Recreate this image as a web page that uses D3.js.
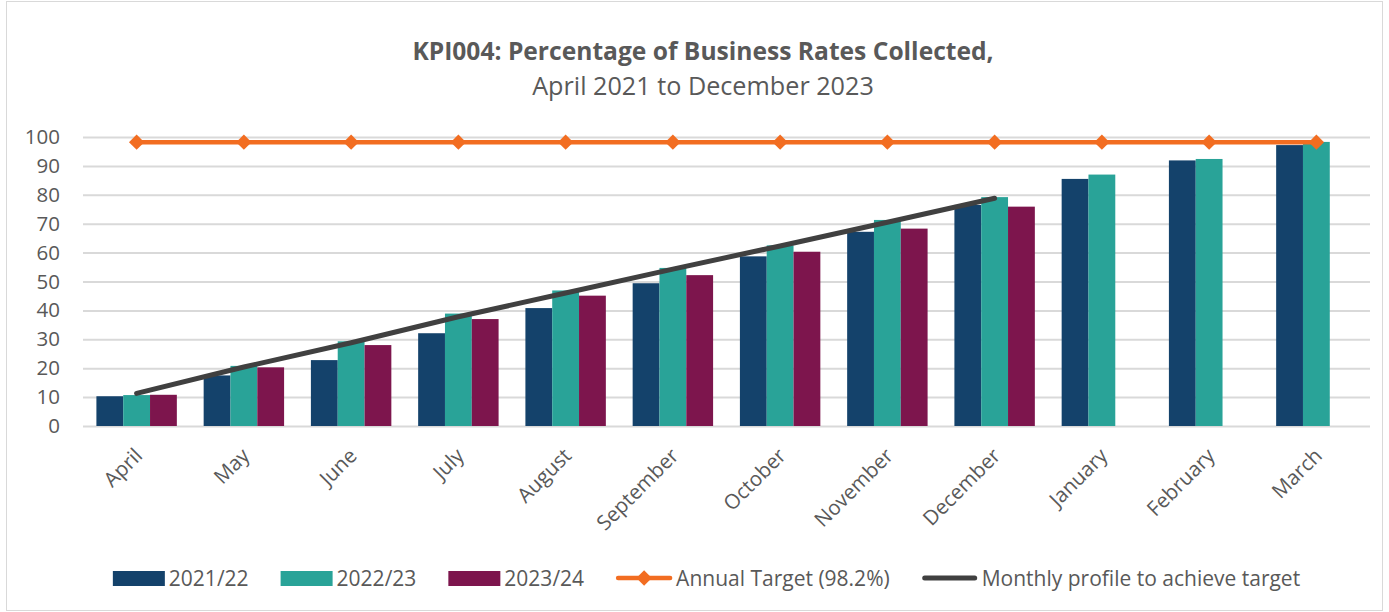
<!DOCTYPE html>
<html>
<head>
<meta charset="utf-8">
<script src="https://cdn.jsdelivr.net/npm/d3@7"></script>
<style>
  html, body { margin: 0; padding: 0; background: #fff; }
  svg { display: block; font-family: "Open Sans", Lato, sans-serif; }
</style>
</head>
<body>
<svg id="chart" width="1389" height="612"></svg>
<script>
// Month categories (financial year order)
const months = ["April", "May", "June", "July", "August", "September",
  "October", "November", "December", "January", "February", "March"];

// Cumulative % of business rates collected, by financial year
const fy2122 = [10.3, 17.5, 22.8, 32.1, 40.8, 49.4, 58.7, 67.2, 76.5, 85.5, 91.9, 97.2];
const fy2223 = [10.7, 20.8, 29.3, 38.9, 46.9, 54.7, 62.5, 71.3, 79.2, 87.0, 92.4, 98.3];
const fy2324 = [10.8, 20.3, 28.0, 37.0, 45.1, 52.2, 60.3, 68.3, 75.9, null, null, null];

// Annual target and the monthly profile needed to reach it
const annualTarget = [98.2, 98.2, 98.2, 98.2, 98.2, 98.2, 98.2, 98.2, 98.2, 98.2, 98.2, 98.2];
const monthlyProfile = [11.3, 20.4, 28.8, 37.8, 46.0, 54.3, 62.3, 70.5, 78.8];

const yTicks = [0, 10, 20, 30, 40, 50, 60, 70, 80, 90, 100];

const barSeries = [
  { name: "2021/22", values: fy2122, color: "#14426b" },
  { name: "2022/23", values: fy2223, color: "#29a398" },
  { name: "2023/24", values: fy2324, color: "#7d154d" }
];
const targetColor = "#f26d21";
const profileColor = "#404040";
const textColor = "#595959";
const fontFamily = "'Open Sans', Lato, sans-serif";

const svg = d3.select("#chart");
const W = 1389, H = 612;
const plot = { left: 83, right: 1370, top: 137, bottom: 426 };

// Chart frame
svg.append("rect")
  .attr("x", 6.5).attr("y", 1.5).attr("width", W - 13).attr("height", H - 3)
  .attr("fill", "#fff").attr("stroke", "#d9d9d9").attr("stroke-width", 1);

// Title
svg.append("text")
  .attr("x", 703).attr("y", 59.5).attr("text-anchor", "middle")
  .attr("font-size", 24.6).attr("font-weight", "bold").attr("fill", textColor)
  .text("KPI004: Percentage of Business Rates Collected,");
svg.append("text")
  .attr("x", 703).attr("y", 95).attr("text-anchor", "middle")
  .attr("font-size", 25.2).attr("fill", textColor)
  .text("April 2021 to December 2023");

// Scales
const x = d3.scaleBand().domain(months).range([plot.left, plot.right]).paddingInner(0).paddingOuter(0);
const xSub = d3.scaleBand().domain(barSeries.map(s => s.name)).range([0, x.bandwidth()])
  .paddingInner(0).paddingOuter(0.5);
const y = d3.scaleLinear().domain([0, 100]).range([plot.bottom, plot.top]);

// Horizontal gridlines + y-axis labels
const yAxis = d3.axisLeft(y).tickValues(yTicks).tickSize(-(plot.right - plot.left)).tickPadding(23);
const gy = svg.append("g").attr("transform", `translate(${plot.left},0)`).call(yAxis);
gy.select(".domain").remove();
gy.selectAll(".tick line").attr("stroke", "#d9d9d9").attr("stroke-width", 2);
gy.selectAll(".tick text").attr("fill", textColor).attr("font-size", 20.5)
  .attr("font-family", fontFamily);

// Bars
const groups = svg.append("g").selectAll("g.series")
  .data(barSeries).join("g").attr("class", "series").attr("fill", d => d.color);
groups.selectAll("rect")
  .data(s => s.values.map((v, i) => ({ s: s.name, m: months[i], v })).filter(d => d.v !== null))
  .join("rect")
  .attr("x", d => x(d.m) + xSub(d.s))
  .attr("y", d => y(d.v))
  .attr("width", xSub.bandwidth())
  .attr("height", d => y(0) - y(d.v));

// x-axis month labels (rotated)
const xAxis = d3.axisBottom(x).tickSize(0).tickPadding(0);
const gx = svg.append("g").attr("transform", `translate(0,${plot.bottom})`).call(xAxis);
gx.select(".domain").remove();
gx.selectAll(".tick text")
  .attr("fill", textColor).attr("font-size", 20.5)
  .attr("font-family", fontFamily)
  .attr("text-anchor", "end")
  .attr("dy", 0)
  .attr("transform", "translate(7,31) rotate(-45)");

const cx = m => x(m) + x.bandwidth() / 2;

// Monthly profile line
svg.append("path")
  .datum(monthlyProfile)
  .attr("fill", "none").attr("stroke", profileColor).attr("stroke-width", 5)
  .attr("stroke-linecap", "round").attr("stroke-linejoin", "round")
  .attr("d", d3.line().x((d, i) => cx(months[i])).y(d => y(d)));

// Annual target line with diamond markers
svg.append("path")
  .datum(annualTarget)
  .attr("fill", "none").attr("stroke", targetColor).attr("stroke-width", 4.5)
  .attr("d", d3.line().x((d, i) => cx(months[i])).y(d => y(d)));
svg.append("g").selectAll("path")
  .data(annualTarget).join("path")
  .attr("transform", (d, i) => `translate(${cx(months[i])},${y(d)})`)
  .attr("d", d3.symbol().type(d3.symbolDiamond2).size(150))
  .attr("fill", targetColor);

// Legend
const legendItems = [
  { type: "rect", color: barSeries[0].color, label: barSeries[0].name },
  { type: "rect", color: barSeries[1].color, label: barSeries[1].name },
  { type: "rect", color: barSeries[2].color, label: barSeries[2].name },
  { type: "target", color: targetColor, label: "Annual Target (98.2%)" },
  { type: "line", color: profileColor, label: "Monthly profile to achieve target" }
];
const legend = svg.append("g");
const ly = 578;
let lx = 0;
legendItems.forEach((it) => {
  const g = legend.append("g").attr("transform", `translate(${lx},0)`);
  let keyW = 52;
  if (it.type === "rect") {
    g.append("rect").attr("x", 0).attr("y", ly - 7).attr("width", 52).attr("height", 15).attr("fill", it.color);
  } else if (it.type === "target") {
    keyW = 56;
    g.append("line").attr("x1", 2).attr("x2", 54).attr("y1", ly).attr("y2", ly)
      .attr("stroke", it.color).attr("stroke-width", 4.5).attr("stroke-linecap", "round");
    g.append("path").attr("transform", `translate(28,${ly})`)
      .attr("d", d3.symbol().type(d3.symbolDiamond2).size(150)).attr("fill", it.color);
  } else {
    keyW = 56;
    g.append("line").attr("x1", 3).attr("x2", 53).attr("y1", ly).attr("y2", ly)
      .attr("stroke", it.color).attr("stroke-width", 5).attr("stroke-linecap", "round");
  }
  const t = g.append("text").attr("x", keyW + 4).attr("y", ly + 7.5)
    .attr("font-size", 21).attr("fill", textColor).text(it.label);
  lx += keyW + 4 + t.node().getComputedTextLength() + 32;
});
const lw = lx - 32;
legend.attr("transform", `translate(${(plot.left + plot.right) / 2 - lw / 2 - 20},0)`);
</script>
</body>
</html>
